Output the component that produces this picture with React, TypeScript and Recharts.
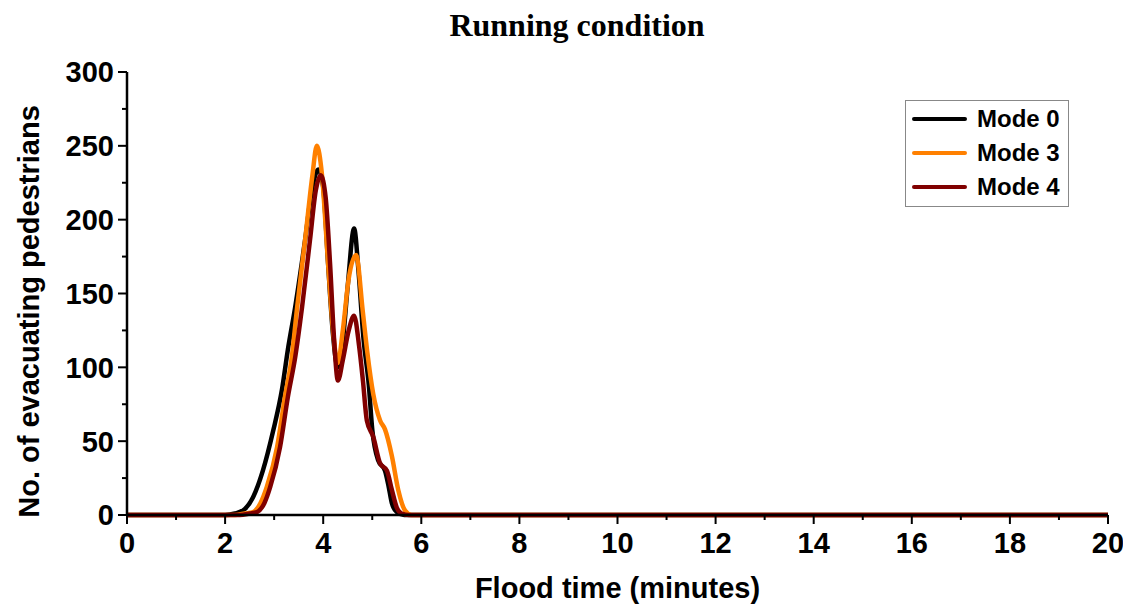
import { LineChart, Line, XAxis, YAxis } from "recharts";

// flood time (minutes) and number of evacuating pedestrians, per mode
const mode0Time = [0, 2.0, 2.2, 2.4, 2.57, 2.77, 2.98, 3.16, 3.28, 3.43, 3.63, 3.78, 3.9, 4.0, 4.1, 4.2, 4.3, 4.4, 4.5, 4.63, 4.72, 4.82, 4.93, 5.0, 5.12, 5.26, 5.33, 5.4, 5.5, 5.65, 20];
const mode0Count = [0, 0, 1, 4, 12, 30, 57, 85, 112, 141, 186, 222, 234, 222, 170, 122, 100, 118, 155, 194, 165, 120, 88, 58, 37, 30, 20, 8, 2, 0, 0];

const mode3Time = [0, 2.2, 2.4, 2.57, 2.72, 2.85, 3.06, 3.22, 3.36, 3.47, 3.63, 3.78, 3.87, 3.97, 4.1, 4.2, 4.3, 4.4, 4.52, 4.67, 4.81, 4.9, 5.02, 5.16, 5.26, 5.4, 5.53, 5.67, 5.8, 20];
const mode3Count = [0, 0, 1, 2, 8, 19, 46, 80, 107, 141, 186, 230, 250, 232, 170, 125, 103, 125, 160, 176, 137, 110, 82, 64, 58, 40, 17, 3, 0, 0];

const mode4Time = [0, 2.3, 2.5, 2.65, 2.8, 2.92, 3.12, 3.28, 3.43, 3.57, 3.73, 3.85, 3.95, 4.05, 4.14, 4.22, 4.3, 4.4, 4.52, 4.63, 4.73, 4.81, 4.89, 5.02, 5.16, 5.3, 5.4, 5.5, 5.6, 5.75, 20];
const mode4Count = [0, 0, 1, 2, 8, 19, 46, 80, 107, 141, 186, 220, 230, 215, 170, 120, 91, 105, 125, 135, 115, 91, 64, 53, 35, 30, 17, 5, 1, 0, 0];

const xTicks = [0, 1, 2, 3, 4, 5, 6, 7, 8, 9, 10, 11, 12, 13, 14, 15, 16, 17, 18, 19, 20];
const yTicks = [0, 25, 50, 75, 100, 125, 150, 175, 200, 225, 250, 275, 300];

const zip = (ts: number[], vs: number[]) => ts.map((t, i) => ({ t, v: vs[i] }));

const series = [
  { name: "Mode 0", color: "#000000", data: zip(mode0Time, mode0Count) },
  { name: "Mode 3", color: "#ff8000", data: zip(mode3Time, mode3Count) },
  { name: "Mode 4", color: "#800000", data: zip(mode4Time, mode4Count) },
];

const FONT = '"Liberation Sans", Arial, sans-serif';

const XTick = (props: any) => {
  const { x, y, payload } = props;
  const major = payload.value % 2 === 0;
  return (
    <g>
      <line x1={x} y1={y} x2={x} y2={y + (major ? 9 : 5)} stroke="#000" strokeWidth={2} />
      {major && (
        <text x={x} y={y + 38} textAnchor="middle" fontFamily={FONT} fontWeight="bold" fontSize={29} fill="#000">
          {payload.value}
        </text>
      )}
    </g>
  );
};

const YTick = (props: any) => {
  const { x, y, payload } = props;
  const major = payload.value % 50 === 0;
  return (
    <g>
      <line x1={x} y1={y} x2={x - (major ? 9 : 5)} y2={y} stroke="#000" strokeWidth={2} />
      {major && (
        <text x={x - 13} y={y} dy="0.36em" textAnchor="end" fontFamily={FONT} fontWeight="bold" fontSize={29} fill="#000">
          {payload.value}
        </text>
      )}
    </g>
  );
};

const XTitle = (props: any) => {
  const { viewBox } = props;
  return (
    <text x={viewBox.x + viewBox.width / 2} y={viewBox.y + 83} textAnchor="middle" fontFamily={FONT} fontWeight="bold" fontSize={29} fill="#000">
      Flood time (minutes)
    </text>
  );
};

const YTitle = (props: any) => {
  const { viewBox } = props;
  const cx = viewBox.x + 21;
  const cy = viewBox.y + viewBox.height / 2 + 18;
  return (
    <text x={cx} y={cy} dy="0.36em" transform={`rotate(-90 ${cx} ${cy})`} textAnchor="middle" fontFamily={FONT} fontWeight="bold" fontSize={29} fill="#000">
      No. of evacuating pedestrians
    </text>
  );
};

// legend box drawn in the upper right of the plot
const LegendBox = () => (
  <div
    style={{
      position: "absolute",
      left: 897,
      top: 92,
      width: 162,
      height: 104,
      paddingTop: 1,
      border: "1.5px solid #888",
      background: "#fff",
    }}
  >
    {series.map((s) => (
      <div key={s.name} style={{ display: "flex", alignItems: "center", height: 34 }}>
        <div style={{ marginLeft: 6, width: 55, height: 4, background: s.color, borderRadius: 2 }} />
        <span style={{ marginLeft: 10, fontFamily: FONT, fontWeight: "bold", fontSize: 24, color: "#000" }}>{s.name}</span>
      </div>
    ))}
  </div>
);

export default function App() {
  return (
    <div style={{ position: "relative", width: 1115, height: 600 }}>
      <div
        style={{
          position: "absolute",
          left: 369,
          top: 1,
          width: 400,
          textAlign: "center",
          fontFamily: '"Liberation Serif", "Times New Roman", serif',
          fontWeight: "bold",
          fontSize: 32,
          lineHeight: "32px",
        }}
      >
        Running condition
      </div>
      <LineChart width={1115} height={600} margin={{ top: 64, right: 15, left: 0, bottom: 8 }}>
        <XAxis
          dataKey="t"
          type="number"
          domain={[0, 20]}
          ticks={xTicks}
          interval={0}
          height={85}
          tickSize={0}
          tickMargin={0}
          tickLine={false}
          tick={<XTick />}
          axisLine={{ stroke: "#000", strokeWidth: 2.5 }}
          label={<XTitle />}
          allowDuplicatedCategory={false}
        />
        <YAxis
          type="number"
          domain={[0, 300]}
          ticks={yTicks}
          interval={0}
          width={119}
          tickSize={0}
          tickMargin={0}
          tickLine={false}
          tick={<YTick />}
          axisLine={{ stroke: "#000", strokeWidth: 2.5 }}
          label={<YTitle />}
        />
        {series.map((s) => (
          <Line
            key={s.name}
            data={s.data}
            dataKey="v"
            name={s.name}
            type="monotone"
            stroke={s.color}
            strokeWidth={4.5}
            dot={false}
            activeDot={false}
            isAnimationActive={false}
          />
        ))}
      </LineChart>
      <LegendBox />
    </div>
  );
}
